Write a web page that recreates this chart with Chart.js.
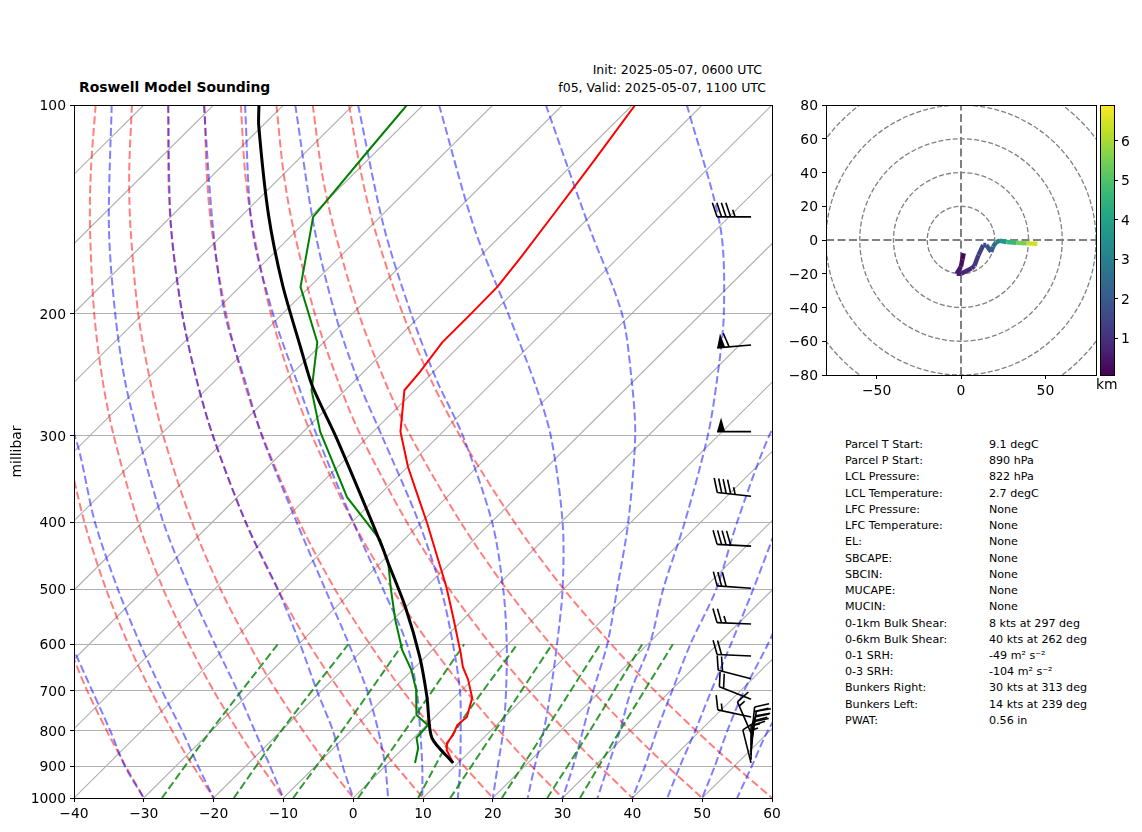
<!DOCTYPE html>
<html>
<head>
    <title>Roswell Model Sounding</title>
    <script src="https://cdn.jsdelivr.net/npm/chart.js"></script>
    <style>
        body { margin: 0; background: #fff; font-family: "DejaVu Sans", sans-serif; color: #000; }
        canvas { position: absolute; }
        .txt { position: absolute; white-space: nowrap; }
        .title { font-weight: bold; font-size: 13.9px; left: 79px; top: 79px; }
        .valid { font-size: 12.5px; text-align: right; }
        .stat { position: absolute; font-size: 11.1px; white-space: nowrap; }
    </style>
</head>
<body>
    <div class="txt title">Roswell Model Sounding</div>
    <div class="txt valid" style="right:380px; top:62px;">Init: 2025-05-07, 0600 UTC</div>
    <div class="txt valid" style="right:376px; top:80px;">f05, Valid: 2025-05-07, 1100 UTC</div>

    <canvas id="skewChart" width="790" height="832" style="left:0;top:0;"></canvas>
    <canvas id="hodoChart" width="340" height="400" style="left:780px;top:0;"></canvas>
    <canvas id="barChart" width="52" height="400" style="left:1090px;top:0;"></canvas>
    <div class="txt" style="left:1096px; top:376px; font-size:13.9px;">km</div>
    <div id="stats"></div>

    <script>
    const SKEW = 100; // x axis shift in degC per decade of pressure

    const xTicks = [-40, -30, -20, -10, 0, 10, 20, 30, 40, 50, 60];
    const pressureTicks = [100, 200, 300, 400, 500, 600, 700, 800, 900, 1000];
    const isotherms = [-140, -130, -120, -110, -100, -90, -80, -70, -60, -50, -40, -30, -20, -10, 0, 10, 20, 30, 40, 50];

    // sounding, pressure in hPa and temperature in degC
    const tempP = [100, 121, 144, 166, 183, 201, 220, 243, 258, 296, 333, 375, 401, 496, 548, 618, 647, 675, 717, 764, 785, 811, 833, 853, 890];
    const tempC = [-59.6, -57.4, -55.5, -54, -53.1, -53, -53, -51.9, -51.5, -46.1, -39.9, -33, -29.1, -17.1, -11.8, -5.5, -3.2, -0.6, 2.6, 4.6, 4.4, 5.2, 5.5, 6.5, 9.25];
    const dewP = [100, 117, 145, 183, 220, 258, 296, 368, 424, 458, 501, 553, 612, 654, 698, 722, 759, 785, 819, 847, 890];
    const dewC = [-92.3, -91.2, -89.6, -81.3, -70.9, -64.8, -57.6, -44.3, -33.4, -28.9, -24.6, -19.7, -14.3, -10.1, -6.6, -5.1, -2.9, 0.2, 0.4, 2.1, 3.8];
    const parcelP = [100, 107, 144, 182, 224, 254, 305, 434, 458, 530, 626, 715, 819, 890];
    const parcelC = [-113.5, -110.6, -96.3, -84.1, -72.5, -65.4, -53.8, -32.1, -28.9, -20.1, -10.8, -4, 2.6, 9.25];

    // dry adiabats, temperature at each level
    const dryLevels = [1000, 850, 700, 600, 500, 400, 300, 250, 200, 150, 125, 100];
    const dryTemps = [
        [-30, -41, -53.6, -63, -73.7],
        [-20, -31.5, -44.5, -54.4, -65.5, -78.3, -93.7],
        [-10, -21.9, -35.5, -45.7, -57.3, -70.6, -86.6, -96.1, -107, -120.1, -127.9, -136.9],
        [0, -12.4, -26.5, -37.1, -49.1, -62.9, -79.5, -89.3, -100.7, -114.3, -122.4, -131.7],
        [10, -2.9, -17.4, -28.5, -40.9, -55.2, -72.4, -82.6, -94.4, -108.5, -116.8, -126.5],
        [20, 6.7, -8.4, -19.8, -32.7, -47.5, -65.3, -75.9, -88.1, -102.7, -111.3, -121.3],
        [30, 16.2, 0.6, -11.2, -24.5, -39.8, -58.2, -69.1, -81.7, -96.8, -105.8, -116.1],
        [40, 25.8, 9.7, -2.5, -16.3, -32.1, -51.2, -62.4, -75.4, -91, -100.3, -111],
        [50, 35.3, 18.7, 6.1, -8.1, -24.4, -44.1, -55.7, -69.1, -85.2, -94.8, -105.8],
        [60, 44.9, 27.7, 14.8, 0.1, -16.7, -37, -49, -62.8, -79.4, -89.2, -100.6]
    ];

    // moist adiabats and mixing ratio lines, read as x axis position at each level
    const moistLevels = [1000, 900, 800, 700, 600, 500, 400, 300, 250, 200, 150, 100];
    const moistX = [
        [-30, -32.7, -34.8, -37.4, -40.4, -44],
        [-20, -22.2, -24.5, -27.4, -30.5, -33.7, -37, -39.9, -44],
        [-10, -11.9, -14.1, -16.6, -19.8, -23.4, -27.2, -30.8, -32.7, -34.1, -35, -34.6],
        [0, -1.5, -2.9, -5.2, -7.6, -10.8, -15.4, -20.1, -22.4, -24.5, -26.1, -26.5],
        [5, 4.6, 3.6, 2, -0.6, -4, -8.1, -13.1, -15.5, -18.4, -20.1, -21.4],
        [9.9, 9.9, 9.6, 9.1, 7.7, 4.3, 0, -5.2, -8.1, -11.5, -14.5, -15.5],
        [15, 15.3, 15.4, 15.3, 14.3, 12.6, 9.4, 4.1, 0.7, -2.6, -5.6, -8.3],
        [20, 20.7, 21.5, 21.9, 22, 21.5, 19.9, 15.7, 12, 8.3, 4.4, 0.7],
        [25, 26, 27.3, 28.3, 29.2, 30, 30, 28.3, 25.9, 22.2, 17.3, 12.3],
        [30, 31.5, 32.9, 34.4, 36.4, 37.8, 39.4, 40.4, 39.9, 38.5, 33.8, 27.6],
        [35, 36.5, 38.2, 39.8, 42.5, 44.4, 47.5, 50.8, 52.1, 53.1, 52.6, 47.8],
        [40, 41.8, 43.5, 45.7, 48.3, 52, 55, 59.6, 64],
        [45, 46.8, 49, 51.3, 54.1, 57.3, 60.9, 65],
        [50, 51.8, 53.6, 56, 59.4, 63],
        [55, 57.1, 59.4, 63]
    ];
    const mixingLevels = [1000, 800, 600];
    const mixingX = [
        [-27.4, -20.4, -10.8],
        [-17.1, -10.3, -0.7],
        [-8.6, -1.6, 7.1],
        [0.7, 7.4, 15.9],
        [9.3, 14.6, 23.5],
        [13.9, 20.3, 28.5],
        [21.3, 27.5, 35.4],
        [27.8, 33.9, 41.4],
        [32.5, 38.2, 45.8]
    ];

    // wind barbs, knots
    const barbColumn = 57;
    const barbP = [890, 881, 867, 855, 838, 827, 806, 764, 720, 673, 624, 561, 498, 433, 367, 296, 222, 145];
    const barbU = [2, 0, -1, -2, -3, -2, 7, 14, 18, 19, 21, 25, 30, 40, 44, 50, 60, 46];
    const barbV = [-8, -15, -17, -18, -19, -19, -16, -3, -7, -5, -1, -1, -2, -2, -5, 0, 5, 0];

    // hodograph
    const hodoU = [1.6, 0.8, 0, -2.6, 0, 6.3, 7.9, 10.3, 13.2, 15, 17.8, 19, 20.7, 23, 27, 33, 39, 45.3];
    const hodoV = [-7.9, -11.5, -15.8, -20, -20, -16.8, -15.4, -9, -3, -3, -7, -4, -1.4, -0.4, -1.2, -1.6, -2, -2.2];
    const hodoKm = [0.07, 0.2, 0.35, 0.5, 0.6, 0.8, 0.95, 1.2, 1.4, 1.6, 1.8, 2.1, 2.5, 3, 3.7, 4.6, 5.5, 6.4];
    const hodoRings = [20, 40, 60, 80, 100];
    const hodoXTicks = [-50, 0, 50];
    const hodoYTicks = [-80, -60, -40, -20, 0, 20, 40, 60, 80];
    const kmTicks = [1, 2, 3, 4, 5, 6];
    const kmMin = 0.07, kmMax = 6.9;
    const viridis = ['#440154', '#482475', '#414487', '#355f8d', '#2a788e', '#21918c', '#22a884', '#44bf70', '#7ad151', '#bddf26', '#fde725'];

    const statLabels = ['Parcel T Start:', 'Parcel P Start:', 'LCL Pressure:', 'LCL Temperature:', 'LFC Pressure:', 'LFC Temperature:', 'EL:', 'SBCAPE:', 'SBCIN:', 'MUCAPE:', 'MUCIN:', '0-1km Bulk Shear:', '0-6km Bulk Shear:', '0-1 SRH:', '0-3 SRH:', 'Bunkers Right:', 'Bunkers Left:', 'PWAT:'];
    const statValues = ['9.1 degC', '890 hPa', '822 hPa', '2.7 degC', 'None', 'None', 'None', 'None', 'None', 'None', 'None', '8 kts at 297 deg', '40 kts at 262 deg', '-49 m\u00b2 s\u207b\u00b2', '-104 m\u00b2 s\u207b\u00b2', '30 kts at 313 deg', '14 kts at 239 deg', '0.56 in'];

    Chart.defaults.font.family = '"DejaVu Sans", sans-serif';
    Chart.defaults.font.size = 13.9;
    Chart.defaults.color = '#000';
    Chart.defaults.animation = false;
    Chart.defaults.responsive = false;
    Chart.defaults.devicePixelRatio = 1;
    Chart.defaults.plugins.legend.display = false;
    Chart.defaults.plugins.tooltip.enabled = false;

    function skewX(t, p) {
        return t + SKEW * Math.log10(1000 / p);
    }

    function minus(v) {
        return String(v).replace('-', '\u2212');
    }

    function curve(points, color, width, dash, tension) {
        return {
            data: points,
            borderColor: color,
            borderWidth: width,
            borderDash: dash,
            pointRadius: 0,
            showLine: true,
            tension: tension,
            fill: false
        };
    }

    function tempCurve(ps, ts, color, width, tension) {
        return curve(ps.map((p, i) => ({ x: skewX(ts[i], p), y: p })), color, width, [], tension);
    }

    const frame = {
        id: 'frame',
        beforeDraw(chart) {
            // canvas text sits a bit high against the tick, nudge the y labels down
            chart.scales.y.getLabelItems().forEach(item => { item.textOffset = 1.5; });
        },
        afterDraw(chart) {
            const a = chart.chartArea, ctx = chart.ctx;
            ctx.save();
            ctx.strokeStyle = '#000';
            ctx.lineWidth = 1;
            ctx.strokeRect(a.left + 0.5, a.top + 0.5, a.right - a.left, a.bottom - a.top);
            ctx.restore();
        }
    };

    function drawBarb(ctx, x, y, u, v) {
        const speed = Math.hypot(u, v);
        const ux = -u / speed, uy = v / speed;
        const nx = -uy, ny = ux;
        const staff = 34, feather = 14, lean = 4.7, step = 4.5, flagBase = 8;
        let left = Math.round(speed / 5) * 5;
        let d = staff;
        const at = (dist, out, back) => [x + ux * (dist + back) + nx * out, y + uy * (dist + back) + ny * out];

        ctx.beginPath();
        ctx.moveTo(x, y);
        ctx.lineTo(...at(staff, 0, 0));
        ctx.stroke();

        while (left >= 50) {
            ctx.beginPath();
            ctx.moveTo(...at(d, 0, 0));
            ctx.lineTo(...at(d - flagBase / 2, feather, 0));
            ctx.lineTo(...at(d - flagBase, 0, 0));
            ctx.closePath();
            ctx.fill();
            d -= flagBase + 4;
            left -= 50;
        }
        while (left >= 10) {
            ctx.beginPath();
            ctx.moveTo(...at(d, 0, 0));
            ctx.lineTo(...at(d, feather, lean));
            ctx.stroke();
            d -= step;
            left -= 10;
        }
        if (left >= 5) {
            if (d === staff) d -= step;
            ctx.beginPath();
            ctx.moveTo(...at(d, 0, 0));
            ctx.lineTo(...at(d, feather / 2, lean / 2));
            ctx.stroke();
        }
    }

    const windBarbs = {
        id: 'windBarbs',
        afterDatasetsDraw(chart) {
            const ctx = chart.ctx;
            const px = chart.scales.x.getPixelForValue(barbColumn);
            ctx.save();
            ctx.strokeStyle = '#000';
            ctx.fillStyle = '#000';
            ctx.lineWidth = 1.6;
            barbP.forEach((p, i) => drawBarb(ctx, px, chart.scales.y.getPixelForValue(p), barbU[i], barbV[i]));
            ctx.restore();
        }
    };

    const skewData = [];
    isotherms.forEach(t => {
        skewData.push(curve([{ x: skewX(t, 1000), y: 1000 }, { x: skewX(t, 100), y: 100 }], '#b0b0b0', 1.1, [], 0));
    });
    // dashes start from the top so overlapping adiabats line up
    dryTemps.forEach(row => {
        skewData.push(curve(row.map((t, i) => ({ x: skewX(t, dryLevels[i]), y: dryLevels[i] })).reverse(), 'rgba(255,0,0,0.5)', 2, [8, 3.5], 0.3));
    });
    moistX.forEach(row => {
        skewData.push(curve(row.map((x, i) => ({ x: x, y: moistLevels[i] })).reverse(), 'rgba(0,0,255,0.5)', 2, [8, 3.5], 0.3));
    });
    mixingX.forEach(row => {
        skewData.push(curve(row.map((x, i) => ({ x: x, y: mixingLevels[i] })), 'rgba(0,128,0,0.8)', 2, [8, 3.5], 0.3));
    });
    skewData.push(tempCurve(tempP, tempC, '#ff0000', 2, 0));
    skewData.push(tempCurve(dewP, dewC, '#008000', 2, 0));
    skewData.push(tempCurve(parcelP, parcelC, '#000000', 3, 0.25));
    // Chart.js paints the first dataset last, the sounding has to end up on top
    skewData.reverse();

    new Chart(document.getElementById('skewChart'), {
        type: 'scatter',
        data: { datasets: skewData },
        options: {
            layout: { padding: { top: 105, right: 18, left: 0, bottom: 0 } },
            scales: {
                x: {
                    type: 'linear', min: -40, max: 60,
                    afterFit: s => { s.height = 34; },
                    afterBuildTicks: s => { s.ticks = xTicks.map(v => ({ value: v })); },
                    grid: { drawOnChartArea: false, tickColor: '#000', tickLength: 4 },
                    border: { color: '#000' },
                    ticks: { callback: minus, maxRotation: 0, autoSkip: false, padding: 4 }
                },
                y: {
                    type: 'logarithmic', reverse: true, min: 100, max: 1000,
                    afterFit: s => { s.width = 74; },
                    afterBuildTicks: s => { s.ticks = pressureTicks.map(v => ({ value: v })); },
                    grid: { color: '#b0b0b0', lineWidth: 1, tickColor: '#000', tickLength: 4 },
                    border: { color: '#000' },
                    title: { display: true, text: 'millibar', padding: { top: 9, bottom: 0 } },
                    ticks: { callback: v => String(v), autoSkip: false, padding: 4 }
                }
            }
        },
        plugins: [windBarbs, frame]
    });

    function kmColor(km) {
        const pos = (km - kmMin) / (kmMax - kmMin) * (viridis.length - 1);
        const lo = Math.min(Math.floor(pos), viridis.length - 2);
        const mix = pos - lo;
        const rgb = c => [1, 3, 5].map(k => parseInt(c.substr(k, 2), 16));
        const a = rgb(viridis[lo]), b = rgb(viridis[lo + 1]);
        return 'rgb(' + a.map((v, k) => Math.round(v + (b[k] - v) * mix)).join(',') + ')';
    }

    const rings = {
        id: 'rings',
        beforeDatasetsDraw(chart) {
            const a = chart.chartArea, ctx = chart.ctx, sx = chart.scales.x, sy = chart.scales.y;
            ctx.save();
            ctx.beginPath();
            ctx.rect(a.left, a.top, a.right - a.left, a.bottom - a.top);
            ctx.clip();
            ctx.strokeStyle = '#808080';
            ctx.lineWidth = 1.3;
            ctx.setLineDash([5, 2.2]);
            hodoRings.forEach(r => {
                ctx.beginPath();
                ctx.arc(sx.getPixelForValue(0), sy.getPixelForValue(0), sx.getPixelForValue(r) - sx.getPixelForValue(0), 0, 2 * Math.PI);
                ctx.stroke();
            });
            ctx.restore();
        }
    };

    const hodoLine = curve(hodoU.map((u, i) => ({ x: u, y: hodoV[i] })), '#440154', 4.5, [], 0);
    hodoLine.segment = { borderColor: c => kmColor(hodoKm[c.p1DataIndex]) };

    new Chart(document.getElementById('hodoChart'), {
        type: 'scatter',
        data: {
            datasets: [
                hodoLine,
                curve([{ x: -80, y: 0 }, { x: 80, y: 0 }], '#808080', 2, [8, 3.5], 0),
                curve([{ x: 0, y: -80 }, { x: 0, y: 80 }], '#808080', 2, [8, 3.5], 0)
            ]
        },
        options: {
            layout: { padding: { top: 105, right: 24, left: 0, bottom: 0 } },
            scales: {
                x: {
                    type: 'linear', min: -80, max: 80,
                    afterFit: s => { s.height = 25; },
                    afterBuildTicks: s => { s.ticks = hodoXTicks.map(v => ({ value: v })); },
                    grid: { drawOnChartArea: false, tickColor: '#000', tickLength: 4 },
                    border: { color: '#000' },
                    ticks: { callback: minus, maxRotation: 0, autoSkip: false, padding: 4 }
                },
                y: {
                    type: 'linear', min: -80, max: 80,
                    afterFit: s => { s.width = 46; },
                    afterBuildTicks: s => { s.ticks = hodoYTicks.map(v => ({ value: v })); },
                    grid: { drawOnChartArea: false, tickColor: '#000', tickLength: 4 },
                    border: { color: '#000' },
                    ticks: { callback: minus, autoSkip: false, padding: 4 }
                }
            }
        },
        plugins: [rings, frame]
    });

    const colorRamp = {
        id: 'colorRamp',
        beforeDatasetsDraw(chart) {
            const a = chart.chartArea, ctx = chart.ctx;
            const grad = ctx.createLinearGradient(0, a.bottom, 0, a.top);
            viridis.forEach((c, i) => grad.addColorStop(i / (viridis.length - 1), c));
            ctx.save();
            ctx.fillStyle = grad;
            ctx.fillRect(a.left, a.top, a.right - a.left, a.bottom - a.top);
            ctx.restore();
        }
    };

    new Chart(document.getElementById('barChart'), {
        type: 'scatter',
        data: { datasets: [{ data: [] }] },
        options: {
            layout: { padding: { top: 105, left: 10, right: 0, bottom: 25 } },
            scales: {
                x: { type: 'linear', display: false, min: 0, max: 1 },
                y: {
                    type: 'linear', position: 'right', min: kmMin, max: kmMax,
                    afterFit: s => { s.width = 28; },
                    afterBuildTicks: s => { s.ticks = kmTicks.map(v => ({ value: v })); },
                    grid: { drawOnChartArea: false, tickColor: '#000', tickLength: 4 },
                    border: { color: '#000' },
                    ticks: { autoSkip: false, padding: 3 }
                }
            }
        },
        plugins: [colorRamp, frame]
    });

    let html = '';
    statLabels.forEach((label, i) => {
        const top = 438 + i * 16.23;
        html += '<div class="stat" style="left:845px;top:' + top + 'px">' + label + '</div>';
        html += '<div class="stat" style="left:989px;top:' + top + 'px">' + statValues[i] + '</div>';
    });
    document.getElementById('stats').innerHTML = html;
    </script>
</body>
</html>
